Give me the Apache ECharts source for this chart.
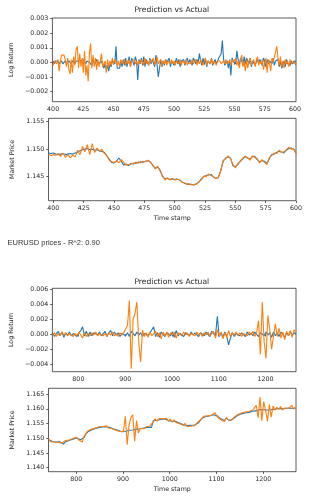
<!DOCTYPE html>
<html><head><meta charset="utf-8">
<script src="https://cdn.jsdelivr.net/npm/echarts@6/dist/echarts.min.js"></script>
<style>html,body{margin:0;padding:0;background:#fff}#c{width:316px;height:502px}</style>
</head><body><div id="c"></div>
<script>
// ---- DATA (returns are given in units of 1e-4) ----
const RET_UNIT = 1e-4;

// Top figure, log returns, timestamps 400..601 step 1
const topRetStart = 400, topRetStep = 1;
const topRetActual = [
 1,-1,1,2,1,-1,0,1,-1,0,1,
 -1,0,1,0,-1,1,0,-1,1,0,
 1,2,1,0,2,1,-1,1,2,0,1,-2,1,0,-1,2,1,-1,0,1,
 -2,-4,-1,-5,-2,-6,-1,-3,1,2,-1,11,
 -4,-3,-4,1,-3,2,-2,3,-3,1,4,-3,3,2,-2,4,1,-12,
 2,-1,3,-2,4,-3,2,1,-2,3,-1,2,1,-3,5,-2,-10,-4,2,-3,
 1,-2,2,0,-1,3,-3,1,2,-2,0,3,-1,2,-3,1,0,2,-2,1,3,-1,2,0,-2,3,1,-1,2,0,
 6,1,-2,3,-1,2,-3,1,2,-1,3,-2,0,2,-1,1,3,2,6,15,
 2,-2,-3,1,-4,2,-9,3,1,2,-1,8,2,-2,3,1,-2,4,-1,3,
 2,-1,3,-3,1,2,-2,0,3,-1,2,1,-2,3,1,-3,2,-1,1,2,
 -1,3,-2,1,0,2,-3,1,-4,-2,1,-3,2,-1,0,-2,1,-1,-2,1,0
];
const topRetPred = [
 -2,1,0,-1,2,-6,1,5,4,5,2,
 -3,3,-5,-8,2,-7,4,-2,9,11,
 -4,6,-3,3,-7,8,-9,-2,-13,6,13,-4,5,-3,3,-5,2,-3,1,6,
 -3,-2,1,-7,2,-3,1,-2,3,-1,2,0,
 -2,1,-3,2,-1,0,2,-2,1,-1,2,-3,1,0,2,-1,1,-2,
 1,-1,2,0,-2,3,-1,1,-2,2,0,-1,3,-2,1,4,-1,0,2,-3,
 1,-1,2,-2,1,0,-1,2,-1,1,-2,1,0,-1,2,-2,1,1,-1,2,-2,0,1,-1,2,-1,0,2,-2,1,
 -1,2,0,-2,1,3,-2,1,0,-1,2,-1,1,0,-2,1,0,1,-1,0,
 1,-1,2,-1,0,1,-2,2,0,-1,3,-2,1,-4,2,5,-3,1,-6,2,
 -4,1,3,-2,0,2,-3,1,4,-2,1,-1,2,-5,-1,3,-7,2,-1,-6,
 3,0,4,7,11,3,-2,4,-3,1,-4,2,-1,1,-3,2,-1,0,1,-1,0
];

// Top figure, market price, timestamps 396..600 step 2
const topPriceStart = 396, topPriceStep = 2;
const topPriceActual = [
 1.1493,1.1492,1.1493,1.1491,1.1490,1.1491,1.1492,1.1490,1.1491,1.1492,1.1491,1.1493,
 1.1495,1.1497,1.1499,1.1500,1.1501,1.1499,1.1500,1.1498,1.1499,1.1497,1.1496,
 1.1494,1.1488,1.1482,1.1476,1.1475,1.1478,1.1484,1.1478,1.1471,1.1473,
 1.1470,1.1474,1.1473,1.1476,1.1475,1.1477,1.1476,1.1478,1.1479,1.1477,
 1.1470,1.1465,1.1468,1.1462,1.1450,1.1446,1.1447,1.1445,1.1446,1.1445,
 1.1446,1.1444,1.1441,1.1438,1.1437,1.1436,1.1436,1.1435,1.1437,1.1440,
 1.1446,1.1450,1.1452,1.1453,1.1454,1.1449,1.1447,1.1448,1.1462,1.1478,
 1.1484,1.1486,1.1484,1.1470,1.1468,1.1472,1.1478,1.1482,1.1487,1.1484,
 1.1482,1.1486,1.1487,1.1481,1.1477,1.1479,1.1478,1.1474,1.1483,1.1490,
 1.1491,1.1494,1.1496,1.1495,1.1493,1.1498,1.1501,1.1502,1.1500,1.1493
];
const topPricePred = [
 1.1491,1.1488,1.1490,1.1489,1.1492,1.1487,1.1493,1.1485,1.1490,1.1484,1.1489,1.1486,
 1.1498,1.1490,1.1505,1.1495,1.1508,1.1490,1.1510,1.1494,1.1502,1.1496,1.1500,
 1.1492,1.1489,1.1480,1.1477,1.1476,1.1479,1.1475,1.1481,1.1476,1.1471,
 1.1472,1.1473,1.1475,1.1474,1.1477,1.1475,1.1478,1.1477,1.1480,1.1476,
 1.1471,1.1464,1.1469,1.1460,1.1452,1.1444,1.1448,1.1444,1.1447,1.1444,
 1.1445,1.1445,1.1440,1.1439,1.1436,1.1437,1.1435,1.1436,1.1436,1.1441,
 1.1444,1.1451,1.1450,1.1455,1.1452,1.1450,1.1446,1.1449,1.1460,1.1480,
 1.1482,1.1488,1.1483,1.1472,1.1466,1.1474,1.1477,1.1484,1.1486,1.1485,
 1.1480,1.1488,1.1485,1.1483,1.1475,1.1481,1.1476,1.1472,1.1485,1.1488,
 1.1493,1.1492,1.1498,1.1494,1.1495,1.1499,1.1503,1.1500,1.1501,1.1491
];

// Bottom figure, log returns, timestamps 745..1265 step 4
const botRetStart = 745, botRetStep = 4;
const botRetActual = [
 2,-3,1,4,-2,3,-4,2,-1,3,
 -2,1,3,-3,2,5,10,-2,4,-3,
 3,-2,2,4,-1,3,-2,1,4,-3,
 2,5,-2,3,-1,2,-3,1,3,-2,
 2,-3,4,1,-2,3,-1,2,-3,1,
 3,-2,2,4,10,-3,2,-4,3,1,
 -3,2,4,-2,3,-4,5,-2,1,3,
 -3,2,1,-2,3,-1,2,4,-3,2,
 1,-2,3,2,-3,4,1,-2,24,-3,
 2,-4,3,-2,-14,-5,2,-3,1,3,
 -2,2,1,-3,3,-1,2,-2,3,1,
 -3,2,4,-2,3,-1,2,-4,3,-2,
 2,-3,3,1,-4,2,-2,3,-1,2,0
];
const botRetPred = [
 -1,2,-3,1,-2,3,-1,2,-2,1,
 2,-3,1,-2,3,-1,-5,2,-3,1,
 -2,2,-1,3,-2,1,2,-2,1,-3,
 2,-1,3,-2,1,-3,2,-1,2,3,
 12,45,-46,20,28,43,-10,-37,6,-3,
 2,-4,3,-2,1,4,-3,2,-6,3,
 -2,3,-4,2,-1,3,-5,2,4,-2,
 3,-1,2,-3,1,2,-2,3,-1,2,
 -3,2,-1,3,-2,1,4,-5,6,-2,
 3,-6,2,-4,5,-3,2,-1,3,-2,
 2,-3,1,2,-2,3,-1,4,-3,2,
 18,-27,43,-10,-32,25,6,-20,-19,14,
 -3,8,-5,3,-7,4,-2,5,-4,6,2
];

// Bottom figure, market price, timestamps 741..1269 step 4
const botPriceStart = 741, botPriceStep = 4;
const botPriceActual = [
 1.1496,1.1491,1.1489,1.1490,1.1487,1.1489,1.1488,1.1486,1.1480,1.1488,
 1.1490,1.1492,1.1494,1.1497,1.1499,1.1501,1.1498,1.1495,1.1491,1.1503,
 1.1515,1.1522,1.1526,1.1528,1.1529,1.1533,1.1535,1.1537,1.1536,1.1538,
 1.1540,1.1539,1.1537,1.1536,1.1534,1.1531,1.1529,1.1527,1.1525,1.1522,
 1.1521,1.1523,1.1525,1.1527,1.1529,1.1528,1.1530,1.1531,1.1529,1.1532,
 1.1533,1.1535,1.1536,1.1537,1.1538,1.1537,1.1560,1.1562,1.1561,1.1563,
 1.1564,1.1562,1.1566,1.1565,1.1560,1.1562,1.1558,1.1560,1.1557,1.1555,
 1.1552,1.1550,1.1546,1.1548,1.1543,1.1541,1.1544,1.1542,1.1545,1.1548,
 1.1552,1.1560,1.1568,1.1572,1.1574,1.1573,1.1576,1.1575,1.1580,1.1583,
 1.1577,1.1571,1.1566,1.1563,1.1560,1.1568,1.1566,1.1560,1.1564,1.1568,
 1.1574,1.1577,1.1580,1.1583,1.1584,1.1586,1.1589,1.1588,1.1591,1.1592,
 1.1594,1.1593,1.1596,1.1598,1.1600,1.1597,1.1599,1.1596,1.1598,1.1597,
 1.1596,1.1599,1.1598,1.1601,1.1599,1.1600,1.1598,1.1602,1.1600,1.1603,
 1.1606,1.1601,1.1604
];
const botPricePred = [
 1.1499,1.1488,1.1491,1.1487,1.1490,1.1486,1.1491,1.1483,1.1479,1.1492,
 1.1488,1.1494,1.1492,1.1499,1.1497,1.1503,1.1495,1.1497,1.1487,1.1508,
 1.1512,1.1525,1.1523,1.1531,1.1527,1.1535,1.1532,1.1539,1.1534,1.1540,
 1.1538,1.1542,1.1535,1.1539,1.1532,1.1534,1.1527,1.1530,1.1523,1.1525,
 1.1523,1.1575,1.1478,1.1545,1.1570,1.1580,1.1490,1.1560,1.1518,1.1534,
 1.1540,1.1532,1.1539,1.1534,1.1541,1.1535,1.1556,1.1566,1.1558,1.1567,
 1.1562,1.1566,1.1563,1.1568,1.1558,1.1565,1.1555,1.1563,1.1554,1.1558,
 1.1549,1.1553,1.1543,1.1551,1.1540,1.1545,1.1541,1.1546,1.1543,1.1550,
 1.1550,1.1562,1.1566,1.1575,1.1571,1.1576,1.1573,1.1578,1.1579,1.1587,
 1.1574,1.1575,1.1563,1.1567,1.1557,1.1571,1.1563,1.1563,1.1561,1.1571,
 1.1571,1.1580,1.1577,1.1586,1.1581,1.1589,1.1586,1.1591,1.1588,1.1595,
 1.1593,1.1612,1.1570,1.1640,1.1560,1.1625,1.1595,1.1558,1.1615,1.1572,
 1.1610,1.1595,1.1605,1.1598,1.1608,1.1596,1.1603,1.1600,1.1601,1.1604,
 1.1612,1.1599,1.1606
];

// Tick labels
const topXTicks = [400,425,450,475,500,525,550,575,600];
const botXTicks = [800,900,1000,1100,1200];
const topRetTicks = [-0.002,-0.001,0,0.001,0.002,0.003];
const topPriceTicks = [1.145,1.150,1.155];
const botRetTicks = [-0.004,-0.002,0,0.002,0.004,0.006];
const botPriceTicks = [1.140,1.145,1.150,1.155,1.160,1.165];

const titleText = 'Prediction vs Actual';
const subText = 'EURUSD prices - R^2: 0.90';
const xName = 'Time stamp';
const retName = 'Log Return';
const priceName = 'Market Price';

// ---- BUILD ----
function pairs(start, step, vals, unit) {
  return vals.map((v, i) => [start + i * step, unit ? v * unit : v]);
}
const FONT = 'DejaVu Sans';
const INK = '#262626';
const fmtNum = d => v => (v < 0 ? '\u2212' : '') + Math.abs(v).toFixed(d);

function xAx(gi, min, max, ticks, withName) {
  return {
    type: 'value', gridIndex: gi, min, max,
    axisLine: { show: false }, splitLine: { show: false },
    axisTick: { show: true, length: 2.2, customValues: ticks, lineStyle: { color: '#333', width: 0.8 } },
    axisLabel: { customValues: ticks, fontSize: 6.3, color: INK, fontFamily: FONT, margin: 4.2, formatter: v => String(v) },
    name: withName ? xName : '', nameLocation: 'middle', nameGap: 14.4,
    nameTextStyle: { fontSize: 6.3, color: INK, fontFamily: FONT, verticalAlign: 'top' }
  };
}
function yAx(gi, min, max, ticks, digits, name, gap) {
  return {
    type: 'value', gridIndex: gi, min, max, scale: true,
    axisLine: { show: false }, splitLine: { show: false },
    axisTick: { show: true, length: 2.2, customValues: ticks, lineStyle: { color: '#333', width: 0.8 } },
    axisLabel: { customValues: ticks, fontSize: 6.3, color: INK, fontFamily: FONT, margin: 4.2, formatter: fmtNum(digits) },
    name, nameLocation: 'middle', nameGap: gap,
    nameTextStyle: { fontSize: 6.3, color: INK, fontFamily: FONT }
  };
}
function grid(top, height) {
  return { left: 48.5, right: 20, top, height, show: true, borderColor: '#333', borderWidth: 0.8, backgroundColor: 'transparent' };
}
function line(xi, yi, data, color) {
  return { type: 'line', xAxisIndex: xi, yAxisIndex: yi, data, showSymbol: false, symbol: 'none',
    lineStyle: { color, width: 1.1 }, itemStyle: { color }, silent: true, animation: false };
}
const BLUE = '#1f77b4', ORANGE = '#ff7f0e';

const chart = echarts.init(document.getElementById('c'), null, { renderer: 'canvas' });
chart.setOption({
  animation: false,
  backgroundColor: '#fff',
  grid: [grid(18, 83.7), grid(118.3, 82.4), grid(288.3, 83.4), grid(388.3, 83.4)],
  xAxis: [
    xAx(0, 399.4, 600.9, topXTicks, false),
    xAx(1, 396, 600, topXTicks, true),
    xAx(2, 744.5, 1265.1, botXTicks, false),
    xAx(3, 740.8, 1270, botXTicks, true)
  ],
  yAxis: [
    yAx(0, -0.0027, 0.00305, topRetTicks, 3, retName, 34),
    yAx(1, 1.14064, 1.1556, topPriceTicks, 3, priceName, 29),
    yAx(2, -0.00499, 0.00613, botRetTicks, 3, retName, 34),
    yAx(3, 1.1386, 1.1670, botPriceTicks, 3, priceName, 29)
  ],
  series: [
    line(0, 0, pairs(topRetStart, topRetStep, topRetActual, RET_UNIT), BLUE),
    line(0, 0, pairs(topRetStart, topRetStep, topRetPred, RET_UNIT), ORANGE),
    line(1, 1, pairs(topPriceStart, topPriceStep, topPriceActual), BLUE),
    line(1, 1, pairs(topPriceStart, topPriceStep, topPricePred), ORANGE),
    line(2, 2, pairs(botRetStart, botRetStep, botRetActual, RET_UNIT), BLUE),
    line(2, 2, pairs(botRetStart, botRetStep, botRetPred, RET_UNIT), ORANGE),
    line(3, 3, pairs(botPriceStart, botPriceStep, botPriceActual), BLUE),
    line(3, 3, pairs(botPriceStart, botPriceStep, botPricePred), ORANGE)
  ],
  graphic: [
    { type: 'text', x: 171.8, y: 9.6, silent: true,
      style: { text: titleText, fill: INK, font: '7.6px "DejaVu Sans"', align: 'center', verticalAlign: 'middle' } },
    { type: 'text', x: 171.8, y: 281.7, silent: true,
      style: { text: titleText, fill: INK, font: '7.6px "DejaVu Sans"', align: 'center', verticalAlign: 'middle' } },
    { type: 'text', x: 7.5, y: 243, silent: true,
      style: { text: subText, fill: '#333', font: '7.5px "Liberation Sans"', align: 'left', verticalAlign: 'middle' } }
  ]
});
</script></body></html>
